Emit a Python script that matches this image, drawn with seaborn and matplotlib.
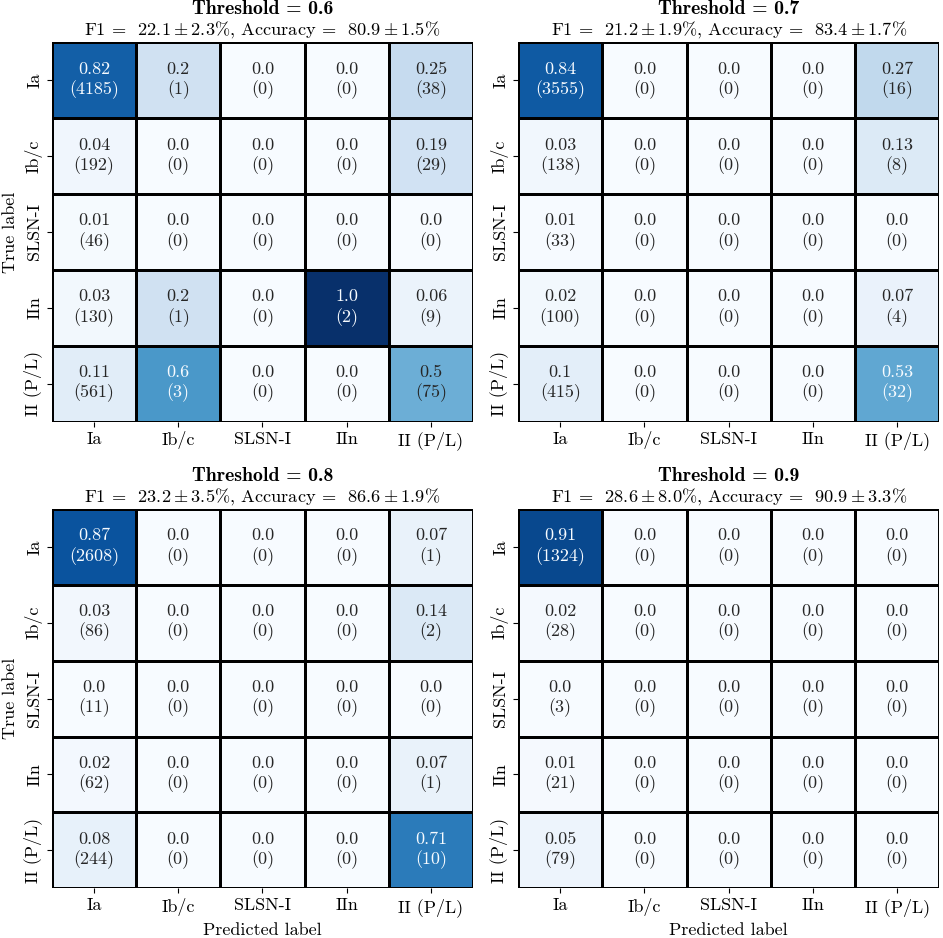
import numpy as np
import pandas as pd
import matplotlib
matplotlib.use("Agg")
import matplotlib.pyplot as plt
import seaborn as sns

# -----------------------------
# Data (rows = true class, cols = predicted class)
# -----------------------------
classes = ["Ia", "Ib/c", "SLSN-I", "IIn", "II (P/L)"]
thresholds = [0.6, 0.7, 0.8, 0.9]

counts_06 = [[4185, 1, 0, 0, 38],
             [192, 0, 0, 0, 29],
             [46, 0, 0, 0, 0],
             [130, 1, 0, 2, 9],
             [561, 3, 0, 0, 75]]
counts_07 = [[3555, 0, 0, 0, 16],
             [138, 0, 0, 0, 8],
             [33, 0, 0, 0, 0],
             [100, 0, 0, 0, 4],
             [415, 0, 0, 0, 32]]
counts_08 = [[2608, 0, 0, 0, 1],
             [86, 0, 0, 0, 2],
             [11, 0, 0, 0, 0],
             [62, 0, 0, 0, 1],
             [244, 0, 0, 0, 10]]
counts_09 = [[1324, 0, 0, 0, 0],
             [28, 0, 0, 0, 0],
             [3, 0, 0, 0, 0],
             [21, 0, 0, 0, 0],
             [79, 0, 0, 0, 0]]

f1_mean = [22.1, 21.2, 23.2, 28.6]
f1_std = [2.3, 1.9, 3.5, 8.0]
acc_mean = [80.9, 83.4, 86.6, 90.9]
acc_std = [1.5, 1.7, 1.9, 3.3]

all_counts = [counts_06, counts_07, counts_08, counts_09]

# -----------------------------
# Style
# -----------------------------
plt.rcParams["font.family"] = "serif"
plt.rcParams["font.serif"] = ["cmr10"]
plt.rcParams["mathtext.fontset"] = "cm"
plt.rcParams["axes.formatter.use_mathtext"] = True
plt.rcParams["axes.unicode_minus"] = False

fig, axes = plt.subplots(2, 2, figsize=(9.43, 9.38), dpi=100)
fig.subplots_adjust(left=0.055, right=0.996, top=0.955, bottom=0.053,
                    hspace=0.23, wspace=0.107)

for k, ax in enumerate(axes.flat):
    cm = np.array(all_counts[k], dtype=float)
    col_sum = cm.sum(axis=0)
    frac = np.divide(cm, col_sum, out=np.zeros_like(cm), where=col_sum > 0)

    labels = [[f"{float(round(frac[i, j], 2))}\n({int(cm[i, j])})"
               for j in range(5)] for i in range(5)]
    df = pd.DataFrame(frac, index=classes, columns=classes)

    sns.heatmap(df, ax=ax, cmap="Blues", vmin=0, vmax=1, cbar=False,
                annot=np.array(labels), fmt="", linewidths=1,
                linecolor="black", annot_kws={"fontsize": 13})

    # text colour: light on the darker half of the panel's range
    thresh = frac.max() / 2
    for t, v in zip(ax.texts, frac.flatten()):
        t.set_color("#f7fbff" if v >= thresh else "#262626")
        t.set_linespacing(1.25)

    ax.tick_params(axis="both", labelsize=13)
    plt.setp(ax.get_yticklabels(), rotation=90, va="center")

    # two-line title: bold threshold, then scores
    ax.annotate(f"Threshold = {thresholds[k]}", xy=(0.5, 1.0),
                xycoords="axes fraction", xytext=(0, 20),
                textcoords="offset points", ha="center", va="baseline",
                fontsize=14.3, family="cmb10")
    score = ("F1 =  $" + f"{f1_mean[k]}\\pm{f1_std[k]}" + "$%, Accuracy =  $"
             + f"{acc_mean[k]}\\pm{acc_std[k]}" + "$%")
    ax.annotate(score, xy=(0.5, 1.0), xycoords="axes fraction",
                xytext=(0, 5.4), textcoords="offset points",
                ha="center", va="baseline", fontsize=13.2)

    ax.set_xlabel("Predicted label" if k >= 2 else "", fontsize=13)
    ax.set_ylabel("True label" if k % 2 == 0 else "", fontsize=13)

plt.savefig("out.png", dpi=100)
